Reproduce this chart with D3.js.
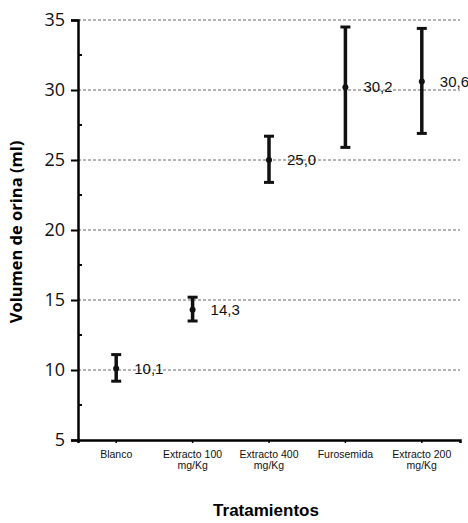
<!DOCTYPE html>
<html>
<head>
<meta charset="utf-8">
<script src="https://cdn.jsdelivr.net/npm/d3@7"></script>
<style>
  body { margin: 0; background: #fff; }
  svg { display: block; }
</style>
</head>
<body>
<svg id="chart" width="468" height="523"></svg>
<script>
// chart data
const categories = ["Blanco", "Extracto 100 mg/Kg", "Extracto 400 mg/Kg", "Furosemida", "Extracto 200 mg/Kg"];
const labelLines = [["Blanco"], ["Extracto 100", "mg/Kg"], ["Extracto 400", "mg/Kg"], ["Furosemida"], ["Extracto 200", "mg/Kg"]];
const means = [10.1, 14.3, 25.0, 30.2, 30.6];
const lower = [9.2, 13.5, 23.4, 25.9, 26.9];
const upper = [11.1, 15.2, 26.7, 34.5, 34.4];
const meanLabels = ["10,1", "14,3", "25,0", "30,2", "30,6"];
const yTicks = [5, 10, 15, 20, 25, 30, 35];
const yMinor = [7.5, 12.5, 17.5, 22.5, 27.5, 32.5];

const margin = { top: 20, right: 8, bottom: 83, left: 78 };
const width = 468 - margin.left - margin.right;
const height = 523 - margin.top - margin.bottom;

const svg = d3.select("#chart");
const g = svg.append("g")
  .attr("transform", "translate(" + margin.left + "," + margin.top + ")");

const x = d3.scaleBand()
  .domain(categories)
  .range([0, width]);

const y = d3.scaleLinear()
  .domain([5, 35])
  .range([height, 0]);

// dotted grid lines
g.selectAll(".grid")
  .data(yTicks.filter(d => d > 5))
  .enter()
  .append("line")
  .attr("class", "grid")
  .attr("x1", 0)
  .attr("x2", width)
  .attr("y1", d => y(d))
  .attr("y2", d => y(d))
  .attr("stroke", "#666")
  .attr("stroke-width", 1)
  .attr("stroke-dasharray", "3,2");

// y axis
const yAxis = g.append("g")
  .call(d3.axisLeft(y).tickValues(yTicks).tickSize(7).tickPadding(6));
yAxis.select(".domain").attr("stroke", "#000").attr("stroke-width", 2.5);
yAxis.selectAll(".tick line").attr("stroke", "#000").attr("stroke-width", 2);
yAxis.selectAll("text")
  .style("font-family", "'Open Sans', sans-serif")
  .style("font-size", "18px")
  .attr("fill", "#111");

// minor ticks inside
g.selectAll(".minor")
  .data(yMinor)
  .enter()
  .append("line")
  .attr("x1", 0)
  .attr("x2", 4)
  .attr("y1", d => y(d))
  .attr("y2", d => y(d))
  .attr("stroke", "#000")
  .attr("stroke-width", 2);

// x axis
const xAxis = g.append("g")
  .attr("transform", "translate(0," + height + ")")
  .call(d3.axisBottom(x).tickSize(3).tickFormat(""));
xAxis.select(".domain").attr("stroke", "#000").attr("stroke-width", 2.5);
xAxis.selectAll(".tick line").attr("stroke", "#000").attr("stroke-width", 1.5);

// category labels (two lines)
const catLabel = g.selectAll(".cat")
  .data(categories)
  .enter()
  .append("text")
  .attr("class", "cat")
  .attr("x", d => x(d) + x.bandwidth() / 2)
  .attr("y", height + 18)
  .attr("text-anchor", "middle")
  .style("font-family", "'Liberation Sans', Arial, sans-serif")
  .style("font-size", "10.5px")
  .attr("fill", "#111");
catLabel.selectAll("tspan")
  .data((d, i) => labelLines[i])
  .enter()
  .append("tspan")
  .attr("x", function () { return d3.select(this.parentNode).attr("x"); })
  .attr("dy", (d, i) => i === 0 ? 0 : 11)
  .text(d => d);

// error bars
const bars = g.selectAll(".err")
  .data(categories)
  .enter()
  .append("g")
  .attr("class", "err")
  .attr("transform", d => "translate(" + (x(d) + x.bandwidth() / 2) + ",0)");

bars.append("line")
  .attr("y1", (d, i) => y(lower[i]))
  .attr("y2", (d, i) => y(upper[i]))
  .attr("stroke", "#111")
  .attr("stroke-width", 3.5);

bars.append("line")
  .attr("x1", -5).attr("x2", 5)
  .attr("y1", (d, i) => y(upper[i]))
  .attr("y2", (d, i) => y(upper[i]))
  .attr("stroke", "#111")
  .attr("stroke-width", 3);

bars.append("line")
  .attr("x1", -5).attr("x2", 5)
  .attr("y1", (d, i) => y(lower[i]))
  .attr("y2", (d, i) => y(lower[i]))
  .attr("stroke", "#111")
  .attr("stroke-width", 3);

bars.append("circle")
  .attr("cy", (d, i) => y(means[i]))
  .attr("r", 3)
  .attr("fill", "#111");

bars.append("text")
  .attr("x", 18)
  .attr("y", (d, i) => y(means[i]))
  .attr("dy", "0.35em")
  .style("font-family", "'Liberation Sans', Arial, sans-serif")
  .style("font-size", "15px")
  .attr("fill", "#111")
  .text((d, i) => meanLabels[i]);

// axis titles
svg.append("text")
  .attr("x", margin.left + width / 2 - 3)
  .attr("y", 516)
  .attr("text-anchor", "middle")
  .style("font-family", "'Liberation Sans', Arial, sans-serif")
  .style("font-size", "17px")
  .style("font-weight", "bold")
  .text("Tratamientos");

svg.append("text")
  .attr("transform", "translate(22," + (margin.top + height / 2 + 2) + ") rotate(-90)")
  .attr("text-anchor", "middle")
  .style("font-family", "'Open Sans', sans-serif")
  .style("font-size", "16.5px")
  .style("font-weight", "bold")
  .text("Volumen de orina (ml)");
</script>
</body>
</html>
